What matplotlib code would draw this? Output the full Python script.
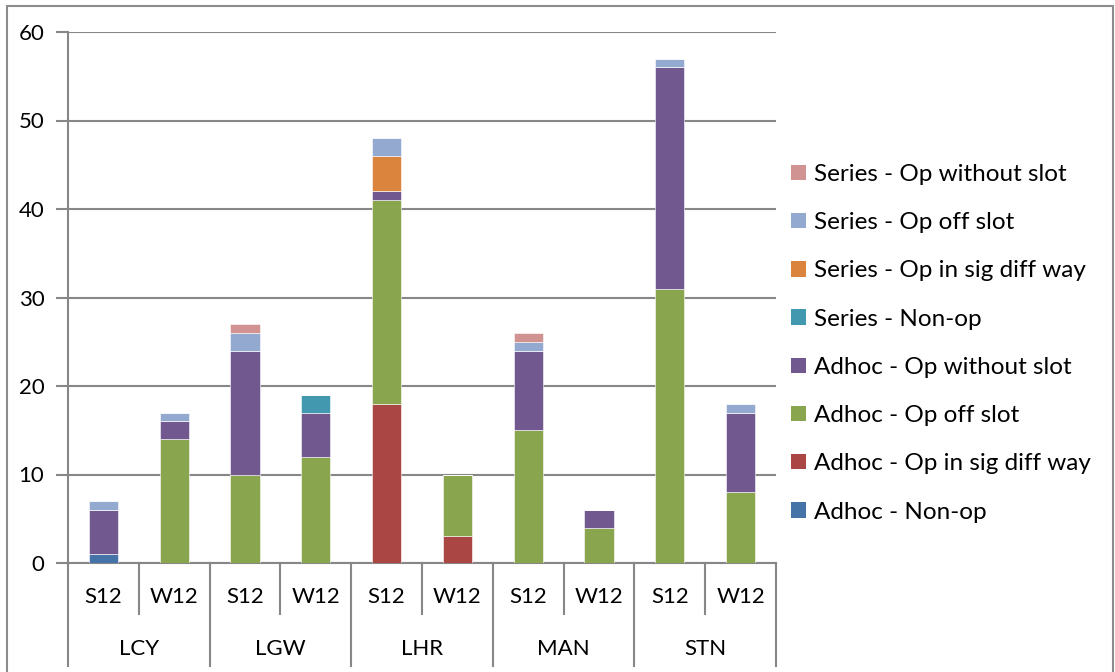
import matplotlib
matplotlib.use("Agg")
import matplotlib.pyplot as plt
from matplotlib.patches import Rectangle, Patch
import numpy as np

plt.rcParams['font.family'] = ['Lato', 'DejaVu Sans']

airports = ["LCY", "LGW", "LHR", "MAN", "STN"]
seasons = ["S12", "W12"]

# stacked from bottom to top, one value per airport/season column
adhoc_non_op        = [1, 0, 0, 0, 0, 0, 0, 0, 0, 0]
adhoc_sig_diff      = [0, 0, 0, 0, 18, 3, 0, 0, 0, 0]
adhoc_off_slot      = [0, 14, 10, 12, 23, 7, 15, 4, 31, 8]
adhoc_without_slot  = [5, 2, 14, 5, 1, 0, 9, 2, 25, 9]
series_non_op       = [0, 0, 0, 2, 0, 0, 0, 0, 0, 0]
series_sig_diff     = [0, 0, 0, 0, 4, 0, 0, 0, 0, 0]
series_off_slot     = [1, 1, 2, 0, 2, 0, 1, 0, 1, 1]
series_without_slot = [0, 0, 1, 0, 0, 0, 1, 0, 0, 0]

series = [
    ("Adhoc - Non-op", adhoc_non_op, "#4572A7"),
    ("Adhoc - Op in sig diff way", adhoc_sig_diff, "#AA4643"),
    ("Adhoc - Op off slot", adhoc_off_slot, "#89A54E"),
    ("Adhoc - Op without slot", adhoc_without_slot, "#71588F"),
    ("Series - Non-op", series_non_op, "#4198AF"),
    ("Series - Op in sig diff way", series_sig_diff, "#DB843D"),
    ("Series - Op off slot", series_off_slot, "#93A9CF"),
    ("Series - Op without slot", series_without_slot, "#D19392"),
]

W, H = 1115, 672
fig = plt.figure(figsize=(W / 100, H / 100), dpi=100)
ax = fig.add_axes([68 / W, 1 - 563 / H, (776 - 68) / W, (563 - 32) / H])

grid_col = "#878787"
label_size = 16
n = len(airports) * len(seasons)
x = np.arange(n)
bottom = np.zeros(n)
for name, vals, col in series:
    v = np.array(vals, dtype=float)
    ax.bar(x, v, width=0.41, bottom=bottom, color=col, edgecolor="white",
           linewidth=0.4, zorder=3, label=name)
    bottom += v

ax.set_xlim(-0.5, n - 0.5)
ax.set_ylim(0, 60)
ax.set_yticks(range(0, 61, 10))
ax.yaxis.grid(True, color=grid_col, linewidth=1.5, zorder=0)
ax.tick_params(axis="y", length=9, width=1.5, color=grid_col,
               labelsize=label_size, pad=8)
ax.set_xticks([])
for s in ["top", "right"]:
    ax.spines[s].set_visible(False)
for s in ["left", "bottom"]:
    ax.spines[s].set_color(grid_col)
    ax.spines[s].set_linewidth(1.5)

# two-level category axis
trans = ax.get_xaxis_transform()
ah = 563 - 32
inner = -51 / ah
outer = -103 / ah
for i in range(len(airports)):
    left = 2 * i - 0.5
    ax.plot([left, left], [0, outer], transform=trans, color=grid_col,
            lw=1.5, clip_on=False)
    ax.plot([left + 1, left + 1], [0, inner], transform=trans, color=grid_col,
            lw=1.5, clip_on=False)
    ax.text(left + 1, -86 / ah, airports[i], transform=trans, ha="center",
            va="center", fontsize=label_size)
    for j, s in enumerate(seasons):
        ax.text(2 * i + j, -34 / ah, s, transform=trans, ha="center",
                va="center", fontsize=label_size)
ax.plot([n - 0.5, n - 0.5], [0, outer], transform=trans, color=grid_col,
        lw=1.5, clip_on=False)

handles = [Patch(facecolor=c, label=nm) for nm, _, c in series][::-1]
fig.legend(handles=handles, loc="upper left",
           bbox_to_anchor=(791 / W, 1 - 164 / H), frameon=False, fontsize=17.5,
           handlelength=0.6, handleheight=0.6, handletextpad=0.35,
           labelspacing=1.12, borderaxespad=0, borderpad=0)

# outer chart frame
fig.patches.append(Rectangle((7 / W, -0.05), (1113 - 7) / W, 1.05 - 6 / H,
                             transform=fig.transFigure, fill=False,
                             edgecolor="#8c8c8c", linewidth=1.5))

fig.savefig("out.png", dpi=100)
